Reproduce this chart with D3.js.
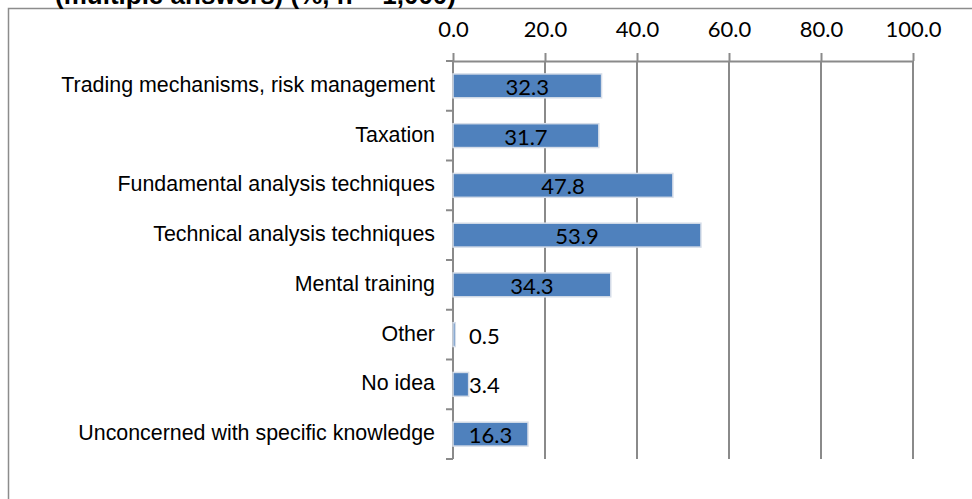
<!DOCTYPE html>
<html>
<head>
<meta charset="utf-8">
<script src="https://cdn.jsdelivr.net/npm/d3@7"></script>
<style>
  html, body { margin: 0; padding: 0; background: #fff; }
  svg { display: block; }
</style>
</head>
<body>
<svg id="chart" width="972" height="499"></svg>
<script>
const TITLE = '(multiple answers) (%, n = 1,000)';
const categories = [
  'Trading mechanisms, risk management',
  'Taxation',
  'Fundamental analysis techniques',
  'Technical analysis techniques',
  'Mental training',
  'Other',
  'No idea',
  'Unconcerned with specific knowledge'
];
const values = [32.3, 31.7, 47.8, 53.9, 34.3, 0.5, 3.4, 16.3];
const xTicks = [0, 20, 40, 60, 80, 100];

const WIDTH = 972;
const HEIGHT = 499;
const COLOR_BAR = '#4f81bd';
const COLOR_BAR_EDGE = '#d6dde8';
const COLOR_GRID = '#8a8a8a';
const COLOR_FRAME = '#8c8c8c';
const LABEL_FONT = 'Lato, Carlito, Calibri, "Open Sans", sans-serif';
const CAT_FONT = '"Liberation Sans", Arial, sans-serif';

const svg = d3.select('#chart');

// outer frame (only top and left visible)
svg.append('path')
  .attr('d', `M8.5,${HEIGHT} L8.5,8.5 L${WIDTH},8.5`)
  .attr('fill', 'none')
  .attr('stroke', COLOR_FRAME)
  .attr('stroke-width', 1.5);

// title, mostly cut off at the top
svg.append('text')
  .attr('x', 55)
  .attr('y', 4)
  .attr('font-family', CAT_FONT)
  .attr('font-weight', 'bold')
  .attr('font-size', 26)
  .attr('fill', '#000')
  .text(TITLE);

const x = d3.scaleLinear().domain([0, 100]).range([453, 913]);
const y = d3.scaleBand()
  .domain(categories)
  .range([61, 459])
  .paddingInner(0.52)
  .paddingOuter(0.26);

const [yTop, yBottom] = y.range();

// vertical gridlines
svg.append('g')
  .selectAll('line')
  .data(xTicks)
  .join('line')
  .attr('x1', d => x(d))
  .attr('x2', d => x(d))
  .attr('y1', yTop)
  .attr('y2', yBottom)
  .attr('stroke', COLOR_GRID)
  .attr('stroke-width', 2);

// top value axis
const xAxis = d3.axisTop(x)
  .tickValues(xTicks)
  .tickFormat(d3.format('.1f'))
  .tickSize(8)
  .tickSizeOuter(0)
  .tickPadding(16);

const gx = svg.append('g')
  .attr('transform', `translate(0,${yTop})`)
  .call(xAxis);
gx.select('.domain').attr('stroke', COLOR_GRID).attr('stroke-width', 2);
gx.selectAll('.tick line').attr('stroke', COLOR_GRID).attr('stroke-width', 2);
gx.selectAll('.tick text')
  .attr('font-family', LABEL_FONT)
  .attr('font-size', 22)
  .attr('fill', '#000');

// category axis line and boundary ticks
const gy = svg.append('g');
gy.append('line')
  .attr('x1', x(0)).attr('x2', x(0))
  .attr('y1', yTop).attr('y2', yBottom)
  .attr('stroke', COLOR_GRID)
  .attr('stroke-width', 2);
gy.selectAll('line.tick')
  .data(d3.range(categories.length + 1))
  .join('line')
  .attr('class', 'tick')
  .attr('x1', x(0) - 7)
  .attr('x2', x(0))
  .attr('y1', i => yTop + i * y.step())
  .attr('y2', i => yTop + i * y.step())
  .attr('stroke', COLOR_GRID)
  .attr('stroke-width', 2);

gy.selectAll('text')
  .data(categories)
  .join('text')
  .attr('x', x(0) - 18)
  .attr('y', d => y(d) + y.bandwidth() / 2 + 6)
  .attr('text-anchor', 'end')
  .attr('font-family', CAT_FONT)
  .attr('font-size', 21.4)
  .attr('fill', '#000')
  .text(d => d);

// bars
const data = categories.map((c, i) => ({ cat: c, value: values[i] }));

svg.append('g')
  .selectAll('rect')
  .data(data)
  .join('rect')
  .attr('x', x(0))
  .attr('y', d => y(d.cat))
  .attr('width', d => x(d.value) - x(0))
  .attr('height', y.bandwidth())
  .attr('fill', COLOR_BAR)
  .attr('stroke', COLOR_BAR_EDGE)
  .attr('stroke-width', 1.5);

// value labels
const fmt = d3.format('.1f');
svg.append('g')
  .selectAll('text')
  .data(data)
  .join('text')
  .each(function (d) {
    const barW = x(d.value) - x(0);
    const t = d3.select(this)
      .attr('font-family', LABEL_FONT)
      .attr('font-size', 22)
      .attr('fill', '#000')
      .attr('y', y(d.cat) + y.bandwidth() / 2 + 9)
      .text(fmt(d.value));
    if (barW > 50) {
      t.attr('x', x(0) + barW / 2).attr('text-anchor', 'middle');
    } else {
      t.attr('x', Math.max(x(d.value), x(0) + 16)).attr('text-anchor', 'start');
    }
  });
</script>
</body>
</html>
